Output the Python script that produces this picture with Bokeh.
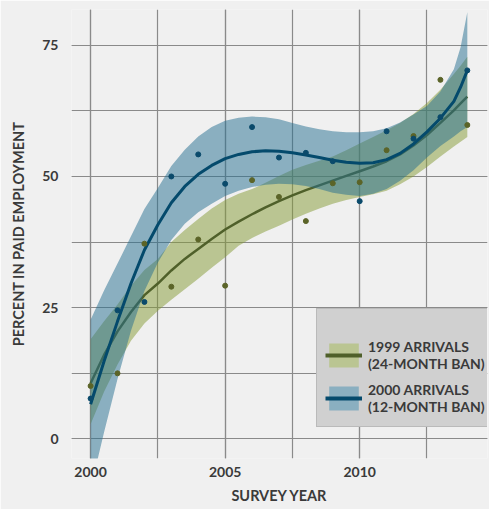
import numpy as np
from bokeh.plotting import figure
from bokeh.models import (Range1d, SingleIntervalTicker, Legend, LegendItem,
                          ColumnDataSource)
from bokeh.embed import file_html
from bokeh.resources import INLINE

years = list(range(2000, 2015))
arrivals_1999 = [10.1, 12.5, 37.2, 29.0, 38.0, 29.2, 49.3, 46.1, 41.5, 48.7,
                 48.9, 55.0, 57.7, 68.4, 59.8]
arrivals_2000 = [7.7, 24.5, 26.1, 50.0, 54.2, 48.6, 59.4, 53.6, 54.5, 52.9,
                 45.3, 58.6, 57.2, 61.3, 70.2]

# ---- smoothed trend and its confidence band ----
curve_x = [2000, 2000.5, 2001, 2001.5, 2002, 2002.5, 2003, 2003.5, 2004, 2004.5,
           2005, 2005.5, 2006, 2006.5, 2007, 2007.5, 2008, 2008.5, 2009, 2009.5,
           2010, 2010.5, 2011, 2011.5, 2012, 2012.5, 2013, 2013.5, 2013.75, 2014]
fit_1999 = [10.6, 16.0, 20.5, 24.2, 27.4, 29.6, 32.1, 34.3, 36.2, 38.1,
            39.9, 41.4, 42.8, 44.1, 45.3, 46.4, 47.4, 48.3, 49.2, 50.1,
            51.0, 51.9, 52.9, 54.2, 55.9, 57.9, 60.2, 62.6, 63.9, 65.2]
low_1999 = [2.8, 9.0, 14.2, 18.7, 22.0, 24.4, 26.5, 28.5, 30.5, 32.6,
            34.6, 36.8, 38.3, 39.5, 40.6, 41.8, 42.9, 43.9, 44.8, 45.5,
            46.1, 46.6, 47.3, 48.5, 50.0, 51.8, 53.8, 55.7, 56.6, 57.5]
high_1999 = [19.0, 22.4, 25.6, 29.2, 32.2, 34.3, 37.5, 39.8, 41.9, 43.9,
             45.5, 46.7, 47.6, 48.8, 50.1, 51.3, 52.2, 53.0, 53.8, 55.0,
             56.3, 57.5, 58.8, 60.2, 61.9, 64.0, 66.5, 69.5, 71.1, 72.8]
fit_2000 = [6.6, 14.8, 22.4, 29.6, 36.0, 40.8, 45.0, 48.1, 50.4, 52.1,
            53.4, 54.2, 54.7, 54.9, 54.8, 54.5, 54.1, 53.6, 53.1, 52.7,
            52.5, 52.6, 53.2, 54.4, 56.2, 58.5, 61.1, 64.3, 67.0, 70.2]
low_2000 = [-9.5, 1.3, 11.4, 20.6, 28.2, 33.6, 37.9, 41.0, 43.2, 44.8,
            46.3, 47.3, 48.0, 48.4, 48.6, 48.5, 48.2, 47.6, 46.9, 46.5,
            46.3, 46.7, 47.6, 49.2, 51.2, 53.6, 55.8, 57.6, 58.6, 59.4]
high_2000 = [22.7, 28.3, 33.4, 38.6, 43.8, 47.8, 52.0, 55.1, 57.6, 59.4,
             60.6, 61.2, 61.4, 61.3, 60.9, 60.2, 59.5, 59.0, 58.6, 58.4,
             58.4, 58.6, 59.2, 60.3, 61.8, 63.4, 66.2, 70.4, 74.6, 81.3]

label_1999 = "1999 ARRIVALS\n(24-MONTH BAN)"
label_2000 = "2000 ARRIVALS\n(12-MONTH BAN)"

BG = "#f0f0f0"
GREEN_FILL, GREEN_LINE, GREEN_PT = "#849a34", "#4f602a", "#5b6428"
BLUE_FILL, BLUE_LINE, BLUE_PT = "#246e90", "#044a6c", "#0a4a6b"
FONT = "Lato"
TXT = "#3a3a3a"

p = figure(width=489, height=509, x_range=Range1d(1999.29, 2014.75),
           y_range=Range1d(-3.72, 81.8), output_backend="svg",
           toolbar_location=None, background_fill_color=BG,
           border_fill_color=BG, min_border_left=71, min_border_right=2,
           min_border_top=9, min_border_bottom=51)
p.outline_line_color = None

src_g = ColumnDataSource(dict(x=curve_x, fit=fit_1999, lo=low_1999, hi=high_1999))
src_b = ColumnDataSource(dict(x=curve_x, fit=fit_2000, lo=low_2000, hi=high_2000))

p.varea(x="x", y1="lo", y2="hi", source=src_g, fill_color=GREEN_FILL, fill_alpha=0.5)
p.line(x="x", y="fit", source=src_g, line_color=GREEN_LINE, line_width=2.5)
p.varea(x="x", y1="lo", y2="hi", source=src_b, fill_color=BLUE_FILL, fill_alpha=0.5)
p.line(x="x", y="fit", source=src_b, line_color=BLUE_LINE, line_width=3)
p.scatter(years, arrivals_1999, size=5, color=GREEN_PT)
p.scatter(years, arrivals_2000, size=5, color=BLUE_PT)

# legend swatches (opaque; no data on the plot)
nan_src = ColumnDataSource(dict(x=[np.nan], y1=[np.nan], y2=[np.nan]))
lg_ga = p.varea(x="x", y1="y1", y2="y2", source=nan_src, fill_color="#bac592")
lg_gl = p.line(x="x", y="y1", source=nan_src, line_color=GREEN_LINE, line_width=4)
lg_ba = p.varea(x="x", y1="y1", y2="y2", source=nan_src, fill_color="#8aafc0")
lg_bl = p.line(x="x", y="y1", source=nan_src, line_color=BLUE_LINE, line_width=4)

legend = Legend(items=[LegendItem(label=label_1999, renderers=[lg_ga, lg_gl]),
                       LegendItem(label=label_2000, renderers=[lg_ba, lg_bl])],
                location=(245, 31), title=" ", title_text_font_size="14px",
                title_standoff=2, padding=8, margin=0, spacing=3,
                glyph_width=37, glyph_height=30, label_standoff=6,
                label_text_font=FONT, label_text_font_style="bold",
                label_text_font_size="14px", label_text_color=TXT,
                label_text_line_height=1.4, label_height=40,
                background_fill_color="#d0d0d0", background_fill_alpha=1,
                border_line_color="#a4a4a4", border_line_width=1)
p.add_layout(legend, "center")

# axes and grids
p.xaxis.ticker = SingleIntervalTicker(interval=5, num_minor_ticks=2)
p.yaxis.ticker = SingleIntervalTicker(interval=25, num_minor_ticks=2)
for ax in (p.xaxis, p.yaxis):
    ax.axis_line_color = None
    ax.major_tick_line_color = None
    ax.minor_tick_line_color = None
    ax.major_tick_out = 0
    ax.major_tick_in = 0
    ax.major_label_text_font = FONT
    ax.major_label_text_font_style = "bold"
    ax.major_label_text_font_size = "14px"
    ax.major_label_text_color = TXT
    ax.major_label_text_line_height = 1.0
    ax.axis_label_text_font = FONT
    ax.axis_label_text_font_style = "bold"
    ax.axis_label_text_font_size = "14.5px"
    ax.axis_label_text_color = TXT
    ax.axis_label_text_line_height = 1.0
p.xaxis.axis_label = "SURVEY YEAR"
p.yaxis.axis_label = "PERCENT IN PAID EMPLOYMENT"
p.xaxis.major_label_standoff = 4
p.xaxis.axis_label_standoff = 7
p.yaxis.major_label_standoff = 9
p.yaxis.axis_label_standoff = 12

for grid in (p.xgrid, p.ygrid):
    grid.grid_line_color = "#8a8a8a"
    grid.grid_line_width = 1.2
    grid.minor_grid_line_color = "#8a8a8a"
    grid.minor_grid_line_width = 1.2
    grid.level = "underlay"

open("out.html", "w").write(file_html(p, INLINE))
